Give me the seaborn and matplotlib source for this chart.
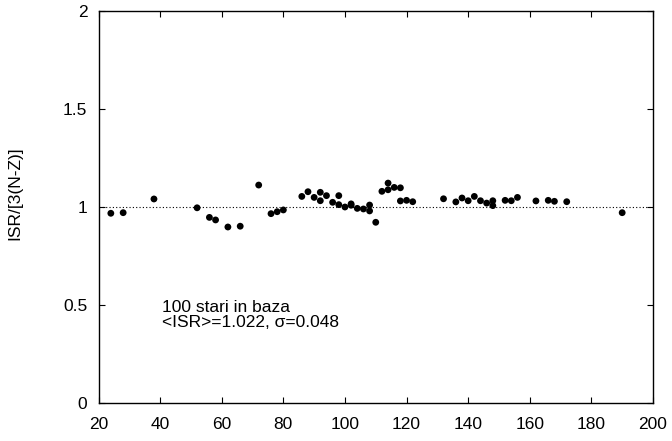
# ISR ratio vs mass number -- scatter with reference line at 1
import pandas as pd
import seaborn as sns
import matplotlib.pyplot as plt

sns.set_theme(style="ticks")
plt.rcParams["font.family"] = ["Liberation Sans", "DejaVu Sans"]
plt.rcParams["text.color"] = "black"
plt.rcParams["axes.labelcolor"] = "black"
plt.rcParams["xtick.color"] = "black"
plt.rcParams["ytick.color"] = "black"

# mass number A and ISR/[3(N-Z)]
mass_a = [24, 28, 38, 52, 56, 58, 62, 66, 72, 76, 78, 80,
          86, 88, 90, 92, 92, 94, 96, 98, 98, 100, 102, 102, 104, 106,
          108, 108, 110, 112, 114, 114, 116, 118, 118, 120, 122,
          132, 136, 138, 140, 142, 144, 146, 148, 148, 152, 154, 156,
          162, 166, 168, 172, 190]
isr_ratio = [0.968, 0.971, 1.041, 0.996, 0.947, 0.934, 0.898, 0.902, 1.112, 0.966, 0.976, 0.985,
             1.054, 1.078, 1.049, 1.075, 1.032, 1.058, 1.024, 1.058, 1.012, 1.000, 1.016, 1.009, 0.993, 0.990,
             1.010, 0.980, 0.922, 1.080, 1.122, 1.088, 1.100, 1.098, 1.031, 1.034, 1.027,
             1.042, 1.026, 1.046, 1.032, 1.054, 1.032, 1.020, 1.032, 1.007, 1.034, 1.032, 1.049,
             1.031, 1.034, 1.029, 1.027, 0.971]
x_ticks = [20, 40, 60, 80, 100, 120, 140, 160, 180, 200]
y_ticks = [0, 0.5, 1, 1.5, 2]
y_tick_labels = ["0", "0.5", "1", "1.5", "2"]

df = pd.DataFrame({"A": mass_a, "ratio": isr_ratio})

fig = plt.figure(figsize=(6.72, 4.41), dpi=100)
ax = fig.add_axes([0.1466, 0.0862, 0.8251, 0.8888])

ax.axhline(1.0, color="black", lw=0.8, ls=(0, (1, 2)), zorder=1)
sns.scatterplot(data=df, x="A", y="ratio", ax=ax, color="black",
                s=24, edgecolor="none", zorder=3)

ax.set_xlim(20, 200)
ax.set_ylim(0, 2)
ax.set_xticks(x_ticks)
ax.set_yticks(y_ticks)
ax.set_yticklabels(y_tick_labels)
ax.tick_params(direction="in", length=4, width=0.8, top=True, right=True,
               labelsize=12.5, color="black", labelcolor="black")
ax.tick_params(axis="x", pad=10)
ax.tick_params(axis="y", pad=8)
for sp in ax.spines.values():
    sp.set_visible(True)
    sp.set_linewidth(1.0)
    sp.set_color("black")

ax.set_xlabel("")
ax.set_ylabel("ISR/[3(N-Z)]", fontsize=12.5, color="black")
ax.yaxis.set_label_coords(-0.138, 0.534)

ax.text(40.5, 0.463, "100 stari in baza", fontsize=12.5, va="baseline", color="black")
ax.text(40.5, 0.387, "<ISR>=1.022, \u03c3=0.048", fontsize=12.5, va="baseline", color="black")

plt.savefig("out.png", dpi=100)
